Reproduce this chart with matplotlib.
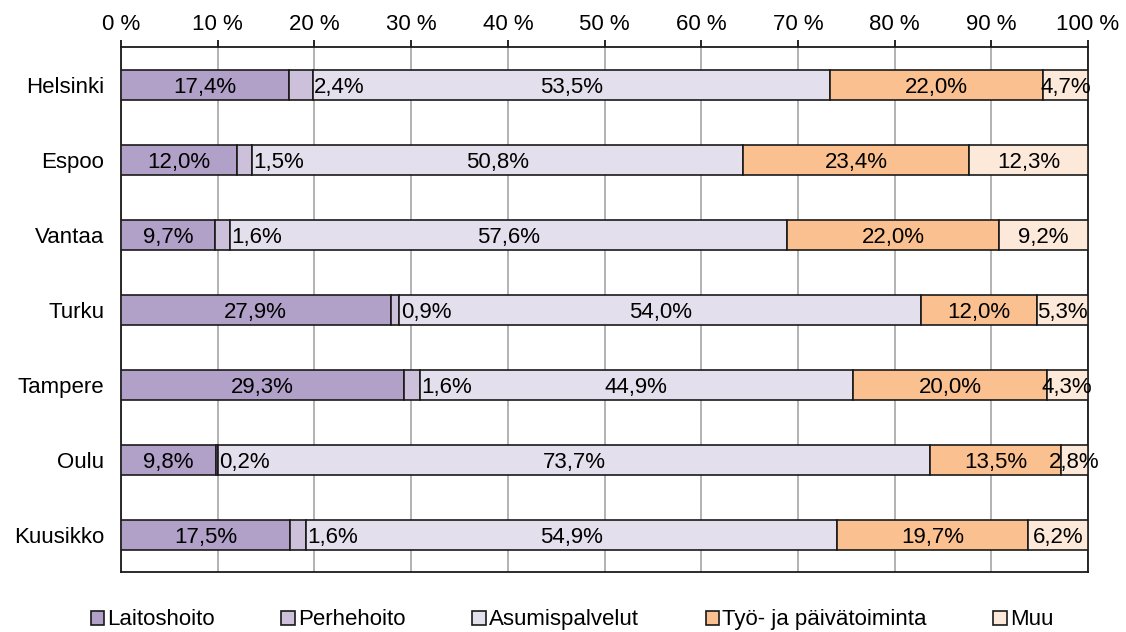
import matplotlib.pyplot as plt
from matplotlib.patches import Patch
import numpy as np

plt.rcParams['font.family'] = ['Liberation Sans', 'DejaVu Sans']

cities = ['Helsinki', 'Espoo', 'Vantaa', 'Turku', 'Tampere', 'Oulu', 'Kuusikko']
series = ['Laitoshoito', 'Perhehoito', 'Asumispalvelut', 'Työ- ja päivätoiminta', 'Muu']
laitos = [17.4, 12.0, 9.7, 27.9, 29.3, 9.8, 17.5]
perhe = [2.4, 1.5, 1.6, 0.9, 1.6, 0.2, 1.6]
asumis = [53.5, 50.8, 57.6, 54.0, 44.9, 73.7, 54.9]
tyo = [22.0, 23.4, 22.0, 12.0, 20.0, 13.5, 19.7]
muu = [4.7, 12.3, 9.2, 5.3, 4.3, 2.8, 6.2]
colors = ['#B1A0C7', '#CCC0DA', '#E4DFEC', '#FAC090', '#FDE9D9']

data = np.array([laitos, perhe, asumis, tyo, muu])
shares = data / data.sum(axis=0) * 100

fig = plt.figure(figsize=(11.26, 6.32), dpi=100)
ax = fig.add_axes([0.1075, 0.0949, 0.8588, 0.8307])

y = np.arange(len(cities))
left = np.zeros(len(cities))
for i, name in enumerate(series):
    ax.barh(y, shares[i], left=left, height=0.4, color=colors[i],
            edgecolor='#1a1a1a', linewidth=1.2, label=name, zorder=3)
    for j in range(len(cities)):
        txt = f'{data[i, j]:.1f}%'.replace('.', ',')
        if i == 1:
            ax.text(left[j] + shares[i, j] + 0.15, y[j], txt, ha='left',
                    va='center_baseline', fontsize=16, zorder=4)
        else:
            ax.text(left[j] + shares[i, j] / 2, y[j], txt, ha='center',
                    va='center_baseline', fontsize=16, zorder=4)
    left += shares[i]

ax.set_xlim(0, 100)
ax.set_ylim(len(cities) - 0.5, -0.5)
ax.set_yticks(y)
ax.set_yticklabels(cities, fontsize=16)
ax.set_xticks(range(0, 101, 10))
ax.set_xticklabels([f'{v} %' for v in range(0, 101, 10)], fontsize=16)
ax.xaxis.tick_top()
ax.tick_params(axis='x', length=5, width=1.2, pad=4)
ax.tick_params(axis='y', length=0, pad=12)
ax.grid(axis='x', color='#a6a6a6', linewidth=1.2, zorder=0)
for s in ax.spines.values():
    s.set_linewidth(1.3)
    s.set_color('#1a1a1a')

handles = [Patch(facecolor=c, edgecolor='#1a1a1a', linewidth=1.2) for c in colors]
fig.legend(handles, series, loc='center', bbox_to_anchor=(0.508, 0.019), ncol=5,
           frameon=False, fontsize=16, handlelength=0.6, handleheight=0.6,
           handletextpad=0.15, columnspacing=3.0)

plt.savefig('out.png', dpi=100)
